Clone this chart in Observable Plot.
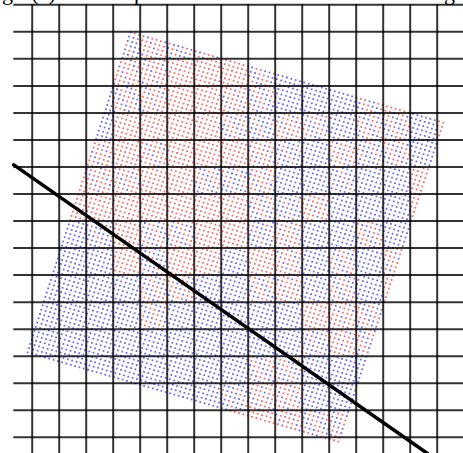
<!DOCTYPE html>
<html>
<head>
<meta charset="utf-8">
<script src="https://cdn.jsdelivr.net/npm/d3@7"></script>
<script src="https://cdn.jsdelivr.net/npm/@observablehq/plot@0.6"></script>
<style>
  html, body { margin: 0; padding: 0; background: #fff; }
  #chart svg { display: block; }
</style>
</head>
<body>
<div id="chart"></div>
<script>
// ---- data (grid units: one unit = one grid cell) ----
const gridX = [1, 2, 3, 4, 5, 6, 7, 8, 9, 10, 11, 12, 13, 14, 15, 16];
const gridY = [0, 1, 2, 3, 4, 5, 6, 7, 8, 9, 10, 11, 12, 13, 14, 15, 16];
// corners of the rotated lattice: top, right, bottom, left
const cornerX = [4.64, 16.23, 12.34, 0.83];
const cornerY = [1.02, 4.36, 16.16, 12.86];
const latticeCounts = [73, 76];
// share of blue points per grid cell (0 = all red ... 4 = all blue), rows top to bottom
const cellBlue = [
  "....3............",
  "....31310........",
  "....110002440....",
  "...421001244420..",
  "...40000231242240",
  "...10100013413244",
  "..0110023144344 4.".slice(0, 17),
  "..00000002314440.",
  "..4302200314424 4.".slice(0, 17),
  ".44403004014241..",
  ".44442144214240..",
  ".44442444440 12...".replace(" ", "").slice(0, 17),
  "44444444444312...",
  ".44444444224444...".slice(0, 17),
  "....444431144....",
  "........00122....",
  "...........00...."
];
const lineX = [0.318, 15.64];
const lineY = [5.92, 16.6];
const textBits = ["g", "(a)", "p", "g"];
const textX = [0.085, 1.42, 4.97, 16.46];

// ---- build lattice table ----
const [nU, nV] = latticeCounts;
const [tX, rX, bX, lX] = cornerX;
const [tY, rY, bY, lY] = cornerY;
const pts = [];
for (let i = 0; i < nU; i++) {
  for (let j = 0; j < nV; j++) {
    const s = i / (nU - 1), t = j / (nV - 1);
    const x = (1 - s) * (1 - t) * tX + s * (1 - t) * rX + (1 - s) * t * lX + s * t * bX;
    const y = (1 - s) * (1 - t) * tY + s * (1 - t) * rY + (1 - s) * t * lY + s * t * bY;
    const row = cellBlue[Math.max(0, Math.min(16, Math.floor(y)))] || "";
    const ch = row[Math.max(0, Math.min(16, Math.floor(x)))];
    const level = (ch >= "0" && ch <= "4") ? +ch : 0;
    const blue = ((i * 3 + j * 5) % 4) < level;
    pts.push({x, y, blue});
  }
}
const lineData = lineX.map((x, k) => ({x, y: lineY[k]}));
const textData = textBits.map((t, k) => ({t, x: textX[k]}));

const xMin = -4.7 / 27, xMax = (463 - 4.7) / 27;
const yMin = -4.3 / 27.03, yMax = (453 - 4.3) / 27.03;

const chart = Plot.plot({
  width: 463,
  height: 453,
  margin: 0,
  x: {domain: [xMin, xMax], range: [0, 463], axis: null},
  y: {domain: [yMin, yMax], range: [0, 453], axis: null},
  style: {background: "white"},
  marks: [
    Plot.dot(pts.filter(d => !d.blue), {x: "x", y: "y", symbol: "square", r: 1.0, fill: "#ff0000", fillOpacity: 0.6}),
    Plot.dot(pts.filter(d => d.blue), {x: "x", y: "y", symbol: "square", r: 1.0, fill: "#0000ff", fillOpacity: 0.6}),
    Plot.ruleX(gridX, {x: d => d, y1: 0, y2: yMax, stroke: "#000", strokeWidth: 2, strokeOpacity: 0.8}),
    Plot.ruleY(gridY, {y: d => d, x1: 0.318, x2: xMax, stroke: "#000", strokeWidth: 2, strokeOpacity: 0.8}),
    Plot.line(lineData, {x: "x", y: "y", stroke: "#000", strokeWidth: 3.5}),
    Plot.text(textData, {x: "x", y: -0.196, text: "t", fontSize: 22, fontFamily: "Liberation Serif", lineAnchor: "bottom", fill: "#000"})
  ]
});
document.getElementById("chart").appendChild(chart);
</script>
</body>
</html>
